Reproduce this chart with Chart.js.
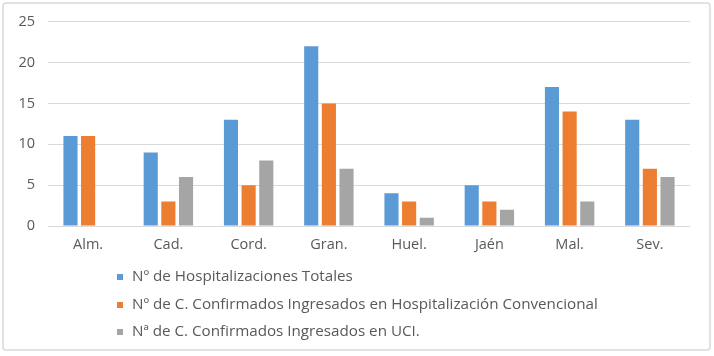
<!DOCTYPE html>
<html>
<head>
<meta charset="utf-8">
<script src="https://cdn.jsdelivr.net/npm/chart.js@4/dist/chart.umd.min.js"></script>
<style>
  html, body { margin: 0; padding: 0; background: #ffffff; }
  #wrap { width: 714px; height: 356px; position: relative; }
</style>
</head>
<body>
<div id="wrap"><canvas id="c" width="714" height="356"></canvas></div>
<script>
const categories = ["Alm.", "Cad.", "Cord.", "Gran.", "Huel.", "Jaén", "Mal.", "Sev."];
const hospTotales = [11, 9, 13, 22, 4, 5, 17, 13];
const hospConvencional = [11, 3, 5, 15, 3, 3, 14, 7];
const ingresadosUCI = [0, 6, 8, 7, 1, 2, 3, 6];
const seriesLabels = [
  "Nº de Hospitalizaciones Totales",
  "Nº de C. Confirmados Ingresados en Hospitalización Convencional",
  "Nª de C. Confirmados Ingresados en UCI."
];
const yTicks = [0, 5, 10, 15, 20, 25];

const FONT = "'Open Sans', 'DejaVu Sans', sans-serif";
const TEXT = "#595959";

const borderPlugin = {
  id: 'frame',
  beforeDraw(chart) {
    const ctx = chart.ctx;
    ctx.save();
    ctx.fillStyle = '#ffffff';
    ctx.fillRect(0, 0, chart.width, chart.height);
    ctx.strokeStyle = '#d9d9d9';
    ctx.lineWidth = 1.5;
    ctx.beginPath();
    ctx.roundRect(3, 3, 707, 347, 3);
    ctx.stroke();
    ctx.restore();
  }
};

const legendPlugin = {
  id: 'vlegend',
  afterDraw(chart) {
    const ctx = chart.ctx;
    ctx.save();
    ctx.font = "15.2px " + FONT;
    ctx.textBaseline = 'middle';
    ctx.textAlign = 'left';
    const ys = [277, 305, 332];
    chart.data.datasets.forEach((ds, i) => {
      ctx.fillStyle = ds.backgroundColor;
      ctx.fillRect(117, ys[i] - 3, 6, 6);
      ctx.fillStyle = TEXT;
      ctx.fillText(ds.label, 132, ys[i]);
    });
    ctx.restore();
  }
};

new Chart(document.getElementById('c'), {
  type: 'bar',
  data: {
    labels: categories,
    datasets: [
      { label: seriesLabels[0], data: hospTotales, backgroundColor: '#5B9BD5' },
      { label: seriesLabels[1], data: hospConvencional, backgroundColor: '#ED7D31' },
      { label: seriesLabels[2], data: ingresadosUCI, backgroundColor: '#A5A5A5' }
    ]
  },
  options: {
    responsive: false,
    animation: false,
    devicePixelRatio: 1,
    layout: { padding: { top: 21, right: 24, left: 0, bottom: 0 } },
    datasets: { bar: { categoryPercentage: 0.66, barPercentage: 0.8 } },
    plugins: {
      legend: { display: false },
      tooltip: { enabled: false }
    },
    scales: {
      x: {
        grid: { display: false, drawTicks: false },
        border: { display: false },
        ticks: { color: TEXT, font: { family: FONT, size: 14.5 }, padding: 10, maxRotation: 0 },
        afterFit(scale) { scale.height = 130; }
      },
      y: {
        min: 0, max: 25,
        afterBuildTicks(scale) { scale.ticks = yTicks.map(v => ({ value: v })); },
        grid: { color: '#d9d9d9', lineWidth: 1, drawTicks: false },
        border: { display: false },
        ticks: { color: TEXT, font: { family: FONT, size: 14.5 }, padding: 13 },
        afterFit(scale) { scale.width = 48; }
      }
    }
  },
  plugins: [borderPlugin, legendPlugin]
});
</script>
</body>
</html>
